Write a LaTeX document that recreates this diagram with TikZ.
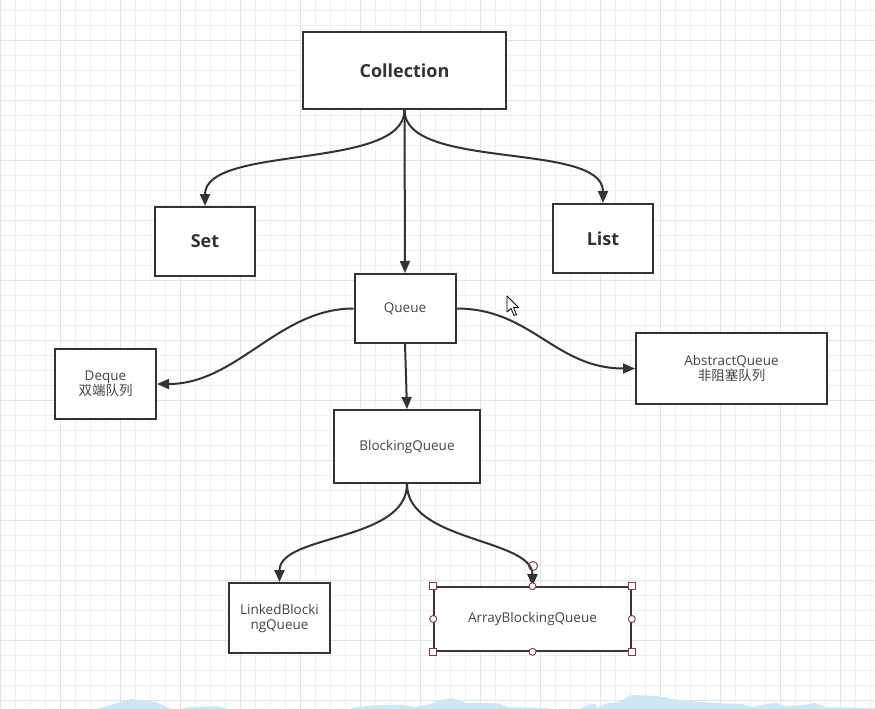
\documentclass[tikz,border=0pt]{standalone}
\usepackage{fontspec}
\setmainfont{Open Sans}
\newfontfamily\cjk{Noto Sans CJK SC}
\usetikzlibrary{arrows.meta}
\definecolor{ink}{HTML}{333333}
\definecolor{txt}{HTML}{444444}
\definecolor{gridminor}{HTML}{F0F0F0}
\definecolor{gridmajor}{HTML}{E3E3E3}
\definecolor{handle}{HTML}{7A3A4A}
\definecolor{smear}{HTML}{CDE8F4}
\tikzset{
  box/.style={draw=ink, line width=2pt, fill=white, inner sep=0pt, align=center, text=txt,
    font=\fontsize{13.5}{16}\selectfont},
  bigbox/.style={box, text=ink, font=\fontsize{18}{22}\selectfont\bfseries},
  arr/.style={draw=ink, line width=2pt, -{Triangle[length=12pt,width=10pt]}},
  minorline/.style={draw=gridminor, line width=0.8pt},
  majorline/.style={draw=gridmajor, line width=0.9pt},
  hsq/.style={draw=handle, fill=white, line width=0.9pt, minimum size=7pt, inner sep=0pt, rectangle},
  hci/.style={draw=handle, fill=white, line width=0.9pt, minimum size=7pt, inner sep=0pt, circle},
}
\begin{document}
\begin{tikzpicture}[x=1pt,y=-1pt]
\useasboundingbox (0,0) rectangle (875,709);
\fill[white] (0,0) rectangle (875,709);
% grid
\foreach \x in {0,15,...,870} \draw[minorline] (\x,0) -- (\x,709);
\foreach \y in {10,25,...,709} \draw[minorline] (0,\y) -- (875,\y);
\foreach \x in {0,60,...,870} \draw[majorline] (\x,0) -- (\x,709);
\foreach \y in {40,100,...,709} \draw[majorline] (0,\y) -- (875,\y);
% bottom smear
\fill[smear] (95,709) -- (100,708) -- (117,703) -- (131,699) -- (142,700) -- (156,702) -- (167,707) -- (172,709) -- cycle;
\fill[smear] (180,709) -- (190,707) -- (218,706) -- (228,709) -- cycle;
\fill[smear] (350,709) -- (357,707) -- (379,705) -- (402,705) -- (416,707) -- (430,704) -- (441,700) -- (452,698) -- (466,703) -- (497,703) -- (508,707) -- (547,708) -- (552,709) -- cycle;
\fill[smear] (580,709) -- (583,707) -- (591,704) -- (596,704) -- (596,708) -- (608,703) -- (619,702) -- (631,695) -- (658,696) -- (678,700) -- (703,702) -- (714,703) -- (742,704) -- (753,707) -- (765,704) -- (776,703) -- (787,706) -- (804,705) -- (815,703) -- (826,707) -- (875,708) -- (875,709) -- cycle;

% nodes
\node[bigbox, minimum width=203pt, minimum height=77pt] (coll) at (404.5,70.5) {Collection};
\node[bigbox, minimum width=100pt, minimum height=69pt] (set) at (205,241.5) {Set};
\node[bigbox, minimum width=100pt, minimum height=69pt] (list) at (603,238.5) {List};
\node[box, minimum width=101pt, minimum height=69pt] (queue) at (405,308.5) {\raisebox{-1.5pt}{Queue}};
\node[box, minimum width=101pt, minimum height=70pt] (deque) at (105.5,384) {Deque\\[-1pt]{\cjk 双端队列}};
\node[box, minimum width=191pt, minimum height=71pt] (abs) at (731.5,368.5) {AbstractQueue\\[-1pt]{\cjk 非阻塞队列}};
\node[box, minimum width=146pt, minimum height=73pt] (bq) at (407,446.5) {\raisebox{-1.5pt}{BlockingQueue}};
\node[box, minimum width=101pt, minimum height=70pt] (lbq) at (279.5,618) {LinkedBlocki\\[-1pt]ngQueue};
\node[box, line width=1.6pt, draw=ink!85!handle, minimum width=197pt, minimum height=64pt] (abq) at (532.5,619) {\raisebox{-1.5pt}{ArrayBlockingQueue}};

% connectors
\draw[arr] (coll.south) .. controls +(0,61) and +(0,-62) .. (set.north);
\draw[arr] (coll.south) .. controls +(0,61) and +(0,-62) .. (list.north);
\draw[arr] (coll.south) -- (queue.north);
\draw[arr] (queue.south) -- (bq.north);
\draw[arr] (queue.west) .. controls +(-75,0) and +(80,0) .. (deque.east);
\draw[arr] (queue.east) .. controls +(75,0) and +(-80,0) .. (abs.west);
\draw[arr] (bq.south) .. controls +(0,58) and +(0,-48) .. (lbq.north);
\draw[arr] (bq.south) .. controls +(0,58) and +(0,-48) .. (abq.north);

% selection handles
\node[hsq] (h1) at (abq.north west) {};
\node[hsq] (h2) at (abq.north east) {};
\node[hsq] (h3) at (abq.south west) {};
\node[hsq] (h4) at (abq.south east) {};
\node[hci] (h5) at (abq.north) {};
\node[hci] (h6) at (abq.south) {};
\node[hci] (h7) at (abq.west) {};
\node[hci] (h8) at (abq.east) {};
\node[hci, minimum size=9pt, fill=none] (h9) at (533,566) {};

% mouse cursor
\filldraw[fill=white, draw=black, line width=0.8pt, line join=round]
  (507,296) -- (507,312) -- (511,308.5) -- (514,315.5) -- (516.5,314.5) -- (513.5,307.5) -- (518.5,307.5) -- cycle;
\end{tikzpicture}
\end{document}
